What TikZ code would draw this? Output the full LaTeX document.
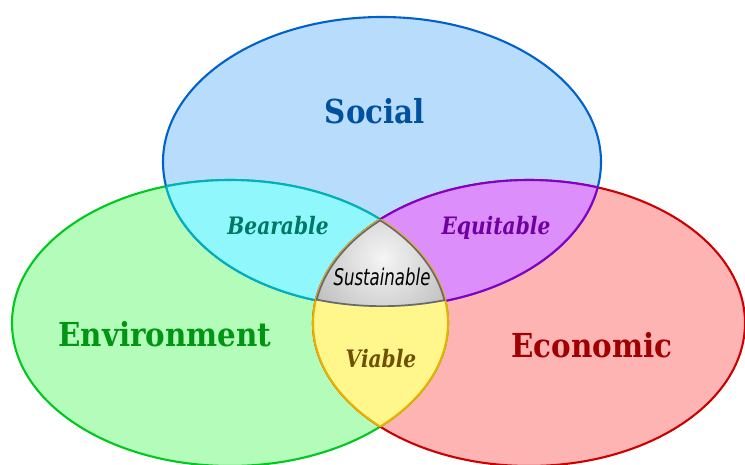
\documentclass[tikz,border=0pt]{standalone}
\usepackage{fontspec}
\setmainfont{DejaVu Serif}
\newfontfamily\sustfont{DejaVu Sans}

\definecolor{socfill}{RGB}{184,220,252}
\definecolor{envfill}{RGB}{180,252,186}
\definecolor{econfill}{RGB}{255,180,180}
\definecolor{bearfill}{RGB}{144,248,252}
\definecolor{equifill}{RGB}{220,142,250}
\definecolor{viabfill}{RGB}{255,246,140}
\definecolor{socline}{RGB}{0,96,204}
\definecolor{envline}{RGB}{0,200,30}
\definecolor{econline}{RGB}{204,0,0}
\definecolor{bearline}{RGB}{0,176,190}
\definecolor{equiline}{RGB}{130,0,200}
\definecolor{viabline}{RGB}{232,176,0}
\definecolor{sustline}{RGB}{105,105,105}
\definecolor{sustgray}{RGB}{158,158,158}
\definecolor{soctext}{RGB}{0,80,160}
\definecolor{envtext}{RGB}{0,150,20}
\definecolor{econtext}{RGB}{160,0,0}
\definecolor{beartext}{RGB}{0,120,100}
\definecolor{equitext}{RGB}{110,0,160}
\definecolor{viabtext}{RGB}{110,80,0}

\newcommand{\socialpath}{(382,162) ellipse [x radius=219, y radius=145]}
\newcommand{\envpath}{(230,323) ellipse [x radius=218, y radius=143]}
\newcommand{\econpath}{(529,323) ellipse [x radius=216, y radius=143]}
\newcommand{\bigtext}[1]{\scalebox{0.89}[1]{#1}}
\newcommand{\lenstext}[1]{\scalebox{0.84}[1]{#1}}

\begin{document}
\begin{tikzpicture}
    [x=1pt,y=-1pt,
     ring/.style={line width=2.1pt},
     big/.style={anchor=base,inner sep=0pt,font=\bfseries\fontsize{33}{36}\selectfont},
     lens/.style={anchor=base,inner sep=0pt,font=\bfseries\itshape\fontsize{24}{27}\selectfont}]
    \useasboundingbox (0,0) rectangle (745,464);
    \clip (0,0) rectangle (745,464);
    % the three circles
    \fill [envfill] \envpath;
    \fill [econfill] \econpath;
    \fill [socfill] \socialpath;
    \draw [ring,envline] \envpath;
    \draw [ring,econline] \econpath;
    \draw [ring,socline] \socialpath;
    % bearable
    \begin{scope}
      \clip \socialpath;
      \fill [bearfill] \envpath;
      \draw [ring,bearline] \envpath;
    \end{scope}
    \begin{scope}
      \clip \envpath;
      \draw [ring,bearline] \socialpath;
    \end{scope}
    % equitable
    \begin{scope}
      \clip \socialpath;
      \fill [equifill] \econpath;
      \draw [ring,equiline] \econpath;
    \end{scope}
    \begin{scope}
      \clip \econpath;
      \draw [ring,equiline] \socialpath;
    \end{scope}
    % viable
    \begin{scope}
      \clip \envpath;
      \fill [viabfill] \econpath;
      \draw [ring,viabline] \econpath;
    \end{scope}
    \begin{scope}
      \clip \econpath;
      \draw [ring,viabline] \envpath;
    \end{scope}
    % sustainable
    \begin{scope}
      \clip \socialpath;
      \clip \envpath;
      \clip \econpath;
      \shade [inner color=white!96!black,outer color=sustgray] (383,258) circle [radius=125];
      \draw [line width=3.4pt,sustline] \socialpath;
      \draw [line width=3.4pt,sustline] \envpath;
      \draw [line width=3.4pt,sustline] \econpath;
    \end{scope}
    % labels
    \node [big,text=soctext] (social) at (375,123) {\bigtext{Social}};
    \node [big,text=envtext] (environment) at (165,346) {\bigtext{Environment}};
    \node [big,text=econtext] (economic) at (592,357) {\bigtext{Economic}};
    \node [lens,text=beartext] (bearable) at (278,234) {\lenstext{Bearable}};
    \node [lens,text=equitext] (equitable) at (496,234) {\lenstext{Equitable}};
    \node [lens,text=viabtext] (viable) at (381,367) {\lenstext{Viable}};
    \node [anchor=base,inner sep=0pt,font=\sustfont\itshape\fontsize{23}{26}\selectfont]
      (sustainable) at (382,285) {\scalebox{0.72}[1]{Sustainable}};
\end{tikzpicture}
\end{document}
